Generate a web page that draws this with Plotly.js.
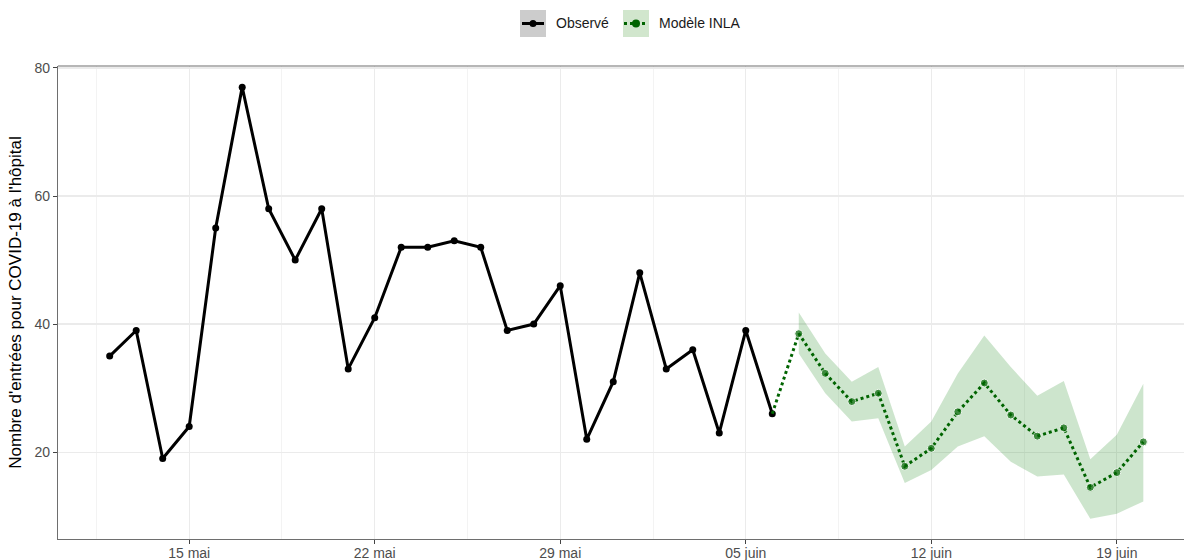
<!DOCTYPE html>
<html>
<head>
<meta charset="utf-8">
<script src="https://cdn.plot.ly/plotly-3.0.1.min.js"></script>
<style>
html, body { margin:0; padding:0; overflow:hidden; background:#fff; width:1184px; height:560px; }
#chart { width:1210px; height:560px; }
</style>
</head>
<body>
<div id="chart"></div>
<script>
// ---- Data ----
const obsDates = ['2021-05-12','2021-05-13','2021-05-14','2021-05-15','2021-05-16','2021-05-17','2021-05-18','2021-05-19','2021-05-20','2021-05-21','2021-05-22','2021-05-23','2021-05-24','2021-05-25','2021-05-26','2021-05-27','2021-05-28','2021-05-29','2021-05-30','2021-05-31','2021-06-01','2021-06-02','2021-06-03','2021-06-04','2021-06-05','2021-06-06'];
const obsValues = [35,39,19,24,55,77,58,50,58,33,41,52,52,53,52,39,40,46,22,31,48,33,36,23,39,26];

const modelDates = ['2021-06-06','2021-06-07','2021-06-08','2021-06-09','2021-06-10','2021-06-11','2021-06-12','2021-06-13','2021-06-14','2021-06-15','2021-06-16','2021-06-17','2021-06-18','2021-06-19','2021-06-20'];
const modelValues = [26,38.5,32.3,27.9,29.2,17.8,20.6,26.3,30.8,25.8,22.5,23.8,14.5,16.8,21.6];

const bandDates = ['2021-06-07','2021-06-08','2021-06-09','2021-06-10','2021-06-11','2021-06-12','2021-06-13','2021-06-14','2021-06-15','2021-06-16','2021-06-17','2021-06-18','2021-06-19','2021-06-20'];
const bandUpper = [41.8,35.4,31.0,33.3,20.9,24.8,32.3,38.2,33.3,28.8,31.1,18.9,22.7,30.7];
const bandLower = [35.4,29.2,24.8,25.3,15.2,17.2,20.9,22.5,18.5,16.2,16.5,9.6,10.4,12.3];

const tickVals = ['2021-05-15','2021-05-22','2021-05-29','2021-06-05','2021-06-12','2021-06-19'];
const tickText = ['15 mai','22 mai','29 mai','05 juin','12 juin','19 juin'];
const minorVals = ['2021-05-11 12:00','2021-05-18 12:00','2021-05-25 12:00','2021-06-01 12:00','2021-06-08 12:00','2021-06-15 12:00'];

const legendLabels = ['Observé','Modèle INLA'];
const yTitle = "Nombre d'entrées pour COVID-19 à l'hôpital";

// ---- Layout geometry ----
const W = 1210, H = 560;
const M = {l:58, r:15, t:66, b:21};
const plotW = W - M.l - M.r, plotH = H - M.t - M.b;
const px = x => (x - M.l) / plotW;
const py = y => (H - M.b - y) / plotH;
const FONT = 'Liberation Sans, Arial, sans-serif';

const traces = [
  {x: bandDates, y: bandLower, type:'scatter', mode:'lines', line:{width:0, color:'rgba(0,0,0,0)'}, hoverinfo:'skip', showlegend:false},
  {x: bandDates, y: bandUpper, type:'scatter', mode:'lines', line:{width:0, color:'rgba(0,0,0,0)'}, fill:'tonexty', fillcolor:'rgba(20,130,20,0.21)', hoverinfo:'skip', showlegend:false},
  {x: obsDates, y: obsValues, type:'scatter', mode:'lines+markers', line:{color:'#000000', width:3}, marker:{color:'#000000', size:7}, name:legendLabels[0], showlegend:false},
  {x: modelDates, y: modelValues, type:'scatter', mode:'lines+markers', line:{color:'#006400', width:3, dash:'dot'}, marker:{color:'#006400', size:[0,8,8,8,8,8,8,8,8,8,8,8,8,8,8]}, name:legendLabels[1], showlegend:false}
];

// Custom legend (ggplot-style keys)
const shapes = [
  {type:'rect', xref:'paper', yref:'paper', x0:px(520), x1:px(546), y0:py(37), y1:py(10), fillcolor:'#cccccc', line:{width:0}, layer:'above'},
  {type:'line', xref:'paper', yref:'paper', x0:px(522), x1:px(544), y0:py(23.5), y1:py(23.5), line:{color:'#000', width:3}},
  {type:'circle', xref:'paper', yref:'paper', x0:px(529.5), x1:px(536.5), y0:py(27), y1:py(20), fillcolor:'#000', line:{width:0}},
  {type:'rect', xref:'paper', yref:'paper', x0:px(623), x1:px(649), y0:py(37), y1:py(10), fillcolor:'#d1e6cd', line:{width:0}, layer:'above'},
  {type:'line', xref:'paper', yref:'paper', x0:px(624), x1:px(648), y0:py(23.5), y1:py(23.5), line:{color:'#006400', width:3, dash:'dot'}},
  {type:'circle', xref:'paper', yref:'paper', x0:px(632), x1:px(640), y0:py(27.5), y1:py(19.5), fillcolor:'#006400', line:{width:0}},
  // panel border (top)
  {type:'line', xref:'paper', yref:'paper', x0:0, x1:1, y0:1, y1:1, line:{color:'#6e6e6e', width:1.2}},
];

const annotations = [
  {xref:'paper', yref:'paper', x:px(554), y:py(23.5), text:legendLabels[0], showarrow:false, xanchor:'left', yanchor:'middle', xshift:0, font:{family:FONT, size:14, color:'#1a1a1a'}},
  {xref:'paper', yref:'paper', x:px(657), y:py(23.5), text:legendLabels[1], showarrow:false, xanchor:'left', yanchor:'middle', font:{family:FONT, size:14, color:'#1a1a1a'}}
];

const layout = {
  width: W, height: H,
  margin: M,
  paper_bgcolor:'#ffffff', plot_bgcolor:'#ffffff',
  showlegend:false,
  font:{family:FONT},
  xaxis:{
    type:'date',
    range:['2021-05-10 01:12','2021-06-21 22:48'],
    tickmode:'array', tickvals:tickVals, ticktext:tickText,
    showgrid:true, gridcolor:'#ebebeb', gridwidth:1.2,
    minor:{tickmode:'array', tickvals:minorVals, showgrid:true, gridcolor:'#f0f0f0', gridwidth:0.8, ticks:''},
    zeroline:false,
    showline:true, linecolor:'#6e6e6e', linewidth:1.2,
    ticks:'outside', ticklen:4, tickcolor:'#444', tickwidth:1,
    ticklabelstandoff:-3,
    tickfont:{size:14, color:'#4d4d4d'},
    fixedrange:true
  },
  yaxis:{
    range:[6.44, 80.3],
    tickvals:[20,40,60,80],
    showgrid:true, gridcolor:'#ebebeb', gridwidth:1.2,
    zeroline:false,
    showline:true, linecolor:'#6e6e6e', linewidth:1.2,
    ticks:'outside', ticklen:4, tickcolor:'#444', tickwidth:1,
    tickfont:{size:14, color:'#4d4d4d'},
    title:{text:yTitle, font:{size:17, color:'#000'}, standoff:8},
    fixedrange:true
  },
  shapes: shapes,
  annotations: annotations
};

Plotly.newPlot('chart', traces, layout, {displayModeBar:false, staticPlot:true});
</script>
</body>
</html>
